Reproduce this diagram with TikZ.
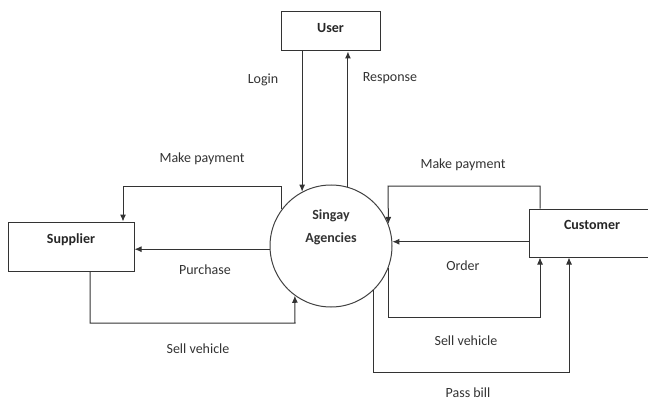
\documentclass[tikz,border=0pt]{standalone}
\usepackage{fontspec}
\setmainfont{Carlito}
\usepackage{tikz}
\usetikzlibrary{arrows.meta,calc,shapes}
\tikzset{>={Latex[length=7pt,width=6pt]}}
\tikzstyle{entity}=[rectangle,draw=black!80,line width=1pt,inner sep=0pt,font=\fontsize{14}{17}\selectfont\bfseries,text=black!85,text height=10pt]
\tikzstyle{process}=[circle,draw=black!75,line width=1pt,inner sep=0pt,minimum size=122pt]
\tikzstyle{flowlabel}=[inner sep=0pt,font=\fontsize{14}{17}\selectfont,text=black!80]
\tikzstyle{flow}=[->,draw=black!80,line width=1pt]

\begin{document}
\begin{tikzpicture}[x=1pt,y=-1pt]
	\useasboundingbox (0,0) rectangle (648,401);

	\node[entity, minimum width=99pt, minimum height=39pt, text depth=7pt] (user) at (330.5,31.5) {User};
	\node[entity, minimum width=126pt, minimum height=49pt, text depth=17pt] (sup) at (71,246.5) {Supplier};
	\node[entity, minimum width=126pt, minimum height=48pt, text depth=18pt] (cust) at (592,233) {Customer};
	\node[process] (ag) at (331,246) {};
	\node[flowlabel, font=\fontsize{14}{23}\selectfont\bfseries, align=center] (agtext) at (331,227) {Singay\\Agencies};

	\coordinate (mpl) at (123,186);
	\coordinate (svl) at (295,323);
	\coordinate (mpr) at (388,186);
	\coordinate (svr) at (540,317);
	\coordinate (pb) at (569,372);

	\draw[flow] (user.south -| ag.118) -- (ag.118);
 	\draw[flow] (ag.74) -- (ag.74 |- user.south);
 	\draw[flow] (ag.143) |- (mpl) -- (mpl |- sup.north);
 	\draw[flow] (ag.183) -- (ag.183 -| sup.east);
 	\draw[flow] ([xshift=19pt]sup.south) |- (svl) -- (ag.-126);
 	\draw[flow] ([xshift=-52pt]cust.north) |- (mpr) -- (ag.21);
 	\draw[flow] (cust.west |- ag.4) -- (ag.4);
 	\draw[flow] (ag.-21) |- (svr) -- ([xshift=-52pt]cust.south);
 	\draw[flow] (ag.-46) |- (pb) -- ([xshift=-23pt]cust.south);

	\node[flowlabel] (lgin) at (263,80) {Login};
	\node[flowlabel] (resp) at (390,78) {Response};
	\node[flowlabel] (mpayl) at (202,159) {Make payment};
	\node[flowlabel] (mpayr) at (463,165) {Make payment};
	\node[flowlabel] (purch) at (205,270) {Purchase};
	\node[flowlabel] (ordr) at (463,266) {Order};
	\node[flowlabel] (sellvl) at (198,349) {Sell vehicle};
	\node[flowlabel] (sellvr) at (466,341) {Sell vehicle};
	\node[flowlabel] (pbill) at (468,393) {Pass bill};
\end{tikzpicture}
\end{document}
